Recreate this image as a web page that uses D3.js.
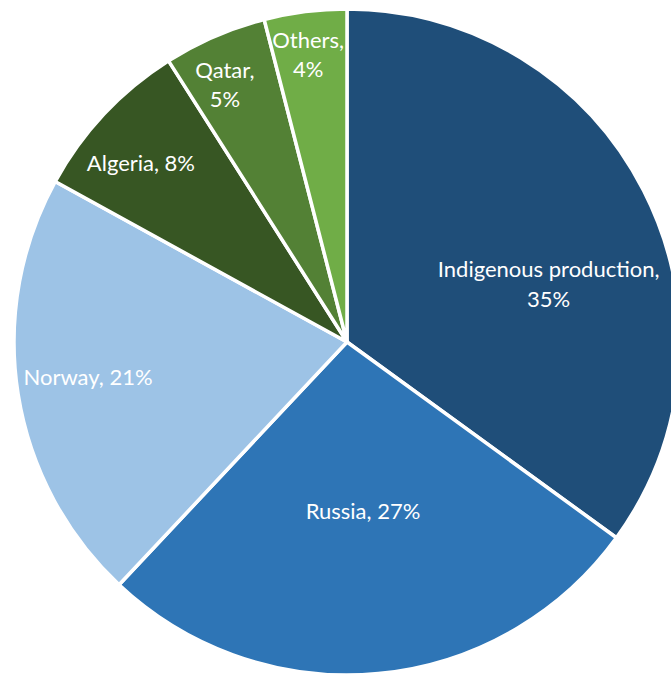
<!DOCTYPE html>
<html>
<head>
<meta charset="utf-8">
<script src="https://cdn.jsdelivr.net/npm/d3@7"></script>
<style>
  html, body { margin: 0; padding: 0; background: #fff; }
  svg { display: block; }
</style>
</head>
<body>
<svg id="chart" width="671" height="675"></svg>
<script>
// Gas supply by source (share, %)
const sources = ["Indigenous production", "Russia", "Norway", "Algeria", "Qatar", "Others"];
const shares = [35, 27, 21, 8, 5, 4];
const colors = ["#1F4E79", "#2E75B6", "#9DC3E6", "#375623", "#538135", "#70AD47"];

// Label layout: fraction of radius, optional angle override (deg), line split
const labelLayout = [
  { r: 0.63, angle: 74, lines: ["Indigenous production,", "35%"] },
  { r: 0.51, lines: ["Russia, 27%"] },
  { r: 0.785, angle: 262.2, lines: ["Norway, 21%"] },
  { r: 0.82, angle: 311, lines: ["Algeria, 8%"] },
  { r: 0.855, angle: 334.6, lines: ["Qatar,", "5%"] },
  { r: 0.87, angle: 352.3, lines: ["Others,", "4%"] }
];

const width = 671, height = 675;
const cx = 347, cy = 342, radius = 333;

const svg = d3.select("#chart");
const g = svg.append("g").attr("transform", `translate(${cx},${cy})`);

const data = sources.map((name, i) => ({ name, value: shares[i], color: colors[i], label: labelLayout[i] }));

const pie = d3.pie().value(d => d.value).sort(null);
const arc = d3.arc().innerRadius(0).outerRadius(radius);
const arcs = pie(data);

g.selectAll("path")
  .data(arcs)
  .join("path")
  .attr("d", arc)
  .attr("fill", d => d.data.color)
  .attr("stroke", "#fff")
  .attr("stroke-width", 3.5)
  .attr("stroke-linejoin", "round");

const fontSize = 22;
const lineGap = 29.5;

const labels = g.selectAll("text.lbl")
  .data(arcs)
  .join("text")
  .attr("class", "lbl")
  .attr("text-anchor", "middle")
  .attr("fill", "#fff")
  .style("font-family", "Lato, 'Open Sans', sans-serif")
  .style("font-size", fontSize + "px")
  .attr("transform", d => {
    const L = d.data.label;
    const a = L.angle !== undefined ? L.angle * Math.PI / 180 : (d.startAngle + d.endAngle) / 2;
    const rr = L.r * radius;
    return `translate(${rr * Math.sin(a)},${-rr * Math.cos(a)})`;
  });

labels.each(function(d) {
  const lines = d.data.label.lines;
  const t = d3.select(this);
  const offset = -(lines.length - 1) * lineGap / 2;
  lines.forEach((line, i) => {
    t.append("tspan")
      .attr("x", 0)
      .attr("y", offset + i * lineGap)
      .attr("dy", "0.35em")
      .text(line);
  });
});
</script>
</body>
</html>
